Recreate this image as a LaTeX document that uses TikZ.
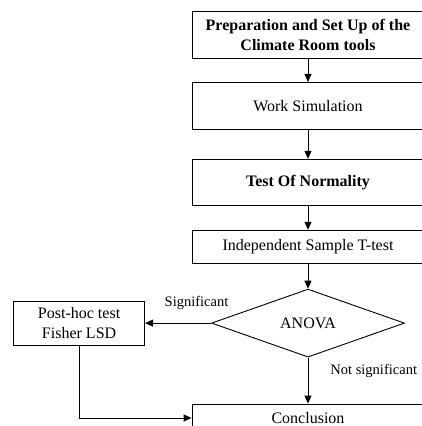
\documentclass[tikz,border=0pt]{standalone}
\usepackage{fontspec}
\setmainfont{Liberation Serif}
\usetikzlibrary{positioning, calc, arrows.meta, shapes.geometric}

\begin{document}
\begin{tikzpicture}[
		x=1pt, y=-1pt,
		% --- ESTILOS ---
		step_box/.style={
			rectangle,
			draw,
			fill=white,
			minimum width=232pt,
			minimum height=47pt,
			inner sep=0pt,
			line width=0.9pt,
			align=center,
			font=\fontsize{16}{19.5}\selectfont
		},
		side_box/.style={
			step_box,
			minimum width=131pt,
			minimum height=44pt
		},
		decision/.style={
			diamond,
			draw,
			fill=white,
			minimum width=193pt,
			minimum height=68pt,
			inner sep=0pt,
			line width=0.9pt,
			font=\fontsize{16}{19.5}\selectfont
		},
		flow_arrow/.style={
			-{Triangle[length=8pt, width=7pt]},
			line width=0.9pt
		},
		branch_label/.style={
			font=\fontsize{14.5}{17}\selectfont,
			inner sep=0pt
		}
		]
		
		% --- MARCO ---
		\useasboundingbox (0,0) rectangle (421,426);
		
		% --- PASOS PRINCIPALES ---
		\node (prep) [step_box] at (308,35) {
			\textbf{Preparation and Set Up of the}\\
			\textbf{Climate Room tools}
		};
		\node (sim) [step_box, below=23pt of prep] {Work Simulation};
		\node (norm) [step_box, minimum height=46pt, below=29pt of sim] {\textbf{Test Of Normality}};
		\node (ttest) [step_box, minimum height=33pt, below=24pt of norm] {Independent Sample T-test};
		
		% --- DECISION ---
		\node (anova) [decision, below=25pt of ttest] {ANOVA};
		\node (posthoc) [side_box, left=66pt of anova] {Post-hoc test\\Fisher LSD};
		
		% --- CONCLUSION ---
		\node (concl) [step_box, minimum height=28pt, below=46pt of anova] {Conclusion};
		
		% --- CONEXIONES ---
		\draw [flow_arrow] (prep) -- (sim);
		\draw [flow_arrow] (sim) -- (norm);
		\draw [flow_arrow] (norm) -- (ttest);
		\draw [flow_arrow] (ttest) -- (anova);
		\draw [flow_arrow] (anova) -- node[branch_label, pos=0.22, above=13pt] {Significant} (posthoc);
		\draw [flow_arrow] (anova) -- node[branch_label, pos=0.3, right=22pt] {Not significant} (concl);
		\draw [flow_arrow] (posthoc) |- (concl);
		
	\end{tikzpicture}
\end{document}
